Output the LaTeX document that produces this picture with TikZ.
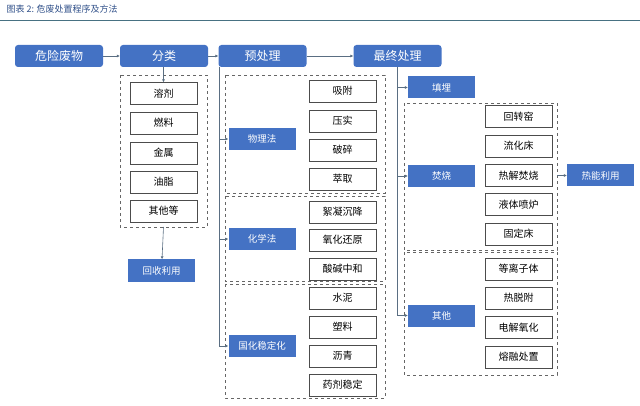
\documentclass[tikz,border=0pt]{standalone}
\usepackage{fontspec}
\setmainfont{Noto Sans CJK SC}
\usetikzlibrary{arrows.meta}
\definecolor{hwblue}{RGB}{68,114,196}
\definecolor{hwline}{RGB}{90,110,130}
\tikzset{
  head/.style={fill=hwblue, text=white, rounded corners=3pt, minimum width=88pt, minimum height=22pt, inner sep=0pt, font=\fontsize{12}{12}\selectfont},
  cat/.style={fill=hwblue, text=white, minimum width=67pt, minimum height=22pt, inner sep=0pt, font=\fontsize{9.5}{10}\selectfont},
  item/.style={draw=black!70, fill=white, minimum width=67pt, minimum height=22pt, inner sep=0pt, font=\fontsize{10}{10}\selectfont},
  group/.style={draw=black!60, dashed, line width=0.5pt},
  link/.style={draw=hwline, line width=0.6pt, -{Latex[length=3pt,width=3pt]}},
  rail/.style={draw=hwline, line width=0.6pt}
}
\begin{document}
\begin{tikzpicture}[x=1pt,y=-1pt]
\useasboundingbox (0,0) rectangle (640,406);
\node[anchor=west, text=hwblue!70!black, font=\itshape\fontsize{9}{9}\selectfont] (title) at (3,9) {图表 2:  危废处置程序及方法};
\draw[hwline!80!teal, line width=0.8pt] (0,20) -- (640,20);

% top row
\node[head] (waste) at (59,56) {危险废物};
\node[head] (sort) at (164,56) {分类};
\node[head] (pre) at (262.5,56) {预处理};
\node[head] (final) at (397.5,56) {最终处理};
\draw[link] (waste) -- (sort);
\draw[link] (sort) -- (pre);
\draw[link] (pre) -- (final);

% sorting
\draw[group] (120,75) rectangle (207,227);
\coordinate (sortbot) at (163.5,227);
\node[item] (solv) at (163.5,93.5) {溶剂};
\node[item] (fuel) at (163.5,123) {燃料};
\node[item] (metal) at (163.5,153) {金属};
\node[item] (grease) at (163.5,182) {油脂};
\node[item] (misc) at (163.5,211) {其他等};
\draw[link] (sort.south -| solv) -- (solv);
\node[cat] (recycle) at (161.5,270.5) {回收利用};
\draw[link] (sortbot) -- (recycle);

% pretreatment
\draw[group] (225,75) rectangle (385,193);
\draw[group] (225,196) rectangle (385,281);
\draw[group] (225,284) rectangle (385,398);
\node[cat] (phys) at (262,139) {物理法};
\node[cat] (chem) at (262,239) {化学法};
\node[cat] (solid) at (262,346) {国化稳定化};
\coordinate (prerail) at (219,67);
\draw[rail] (prerail) -- (219,346);
\foreach \n in {phys,chem,solid} \draw[link] (prerail |- \n) -- (\n);
\node[item] (adsorb) at (342.5,91) {吸附};
\node[item] (compact) at (342.5,121) {压实};
\node[item] (crush) at (342.5,150) {破碎};
\node[item] (extract) at (342.5,179) {萃取};
\node[item] (floc) at (342.5,212) {絮凝沉降};
\node[item] (redox) at (342.5,240) {氧化还原};
\node[item] (neutral) at (342.5,269) {酸碱中和};
\node[item] (cement) at (342.5,298) {水泥};
\node[item] (plastic) at (342.5,327) {塑料};
\node[item] (asphalt) at (342.5,356) {沥青};
\node[item] (agent) at (342.5,385) {药剂稳定};

% final disposal
\draw[group] (404,103) rectangle (557,250);
\draw[group] (404,252) rectangle (557,375);
\node[cat] (landfill) at (441.5,87.5) {填埋};
\node[cat] (burn) at (441.5,176) {焚烧};
\node[cat] (other) at (441.5,315.5) {其他};
\coordinate (finrail) at (397,67);
\draw[rail] (finrail) -- (397,315.5);
\foreach \n in {landfill,burn,other} \draw[link] (finrail |- \n) -- (\n);
\node[item] (kiln) at (518.5,116.5) {回转窑};
\node[item] (fluid) at (518.5,146) {流化床};
\node[item] (pyro) at (518.5,175.5) {热解焚烧};
\node[item] (inject) at (518.5,204.5) {液体喷炉};
\node[item] (fixed) at (518.5,234) {固定床};
\node[item] (plasma) at (518.5,269) {等离子体};
\node[item] (desorb) at (518.5,298) {热脱附};
\node[item] (electro) at (518.5,327.5) {电解氧化};
\node[item] (melt) at (518.5,357) {熔融处置};
\node[cat] (heat) at (600.5,175.5) {热能利用};
\coordinate (burnedge) at (557,175.5);
\draw[link] (burnedge) -- (heat);
\end{tikzpicture}
\end{document}
